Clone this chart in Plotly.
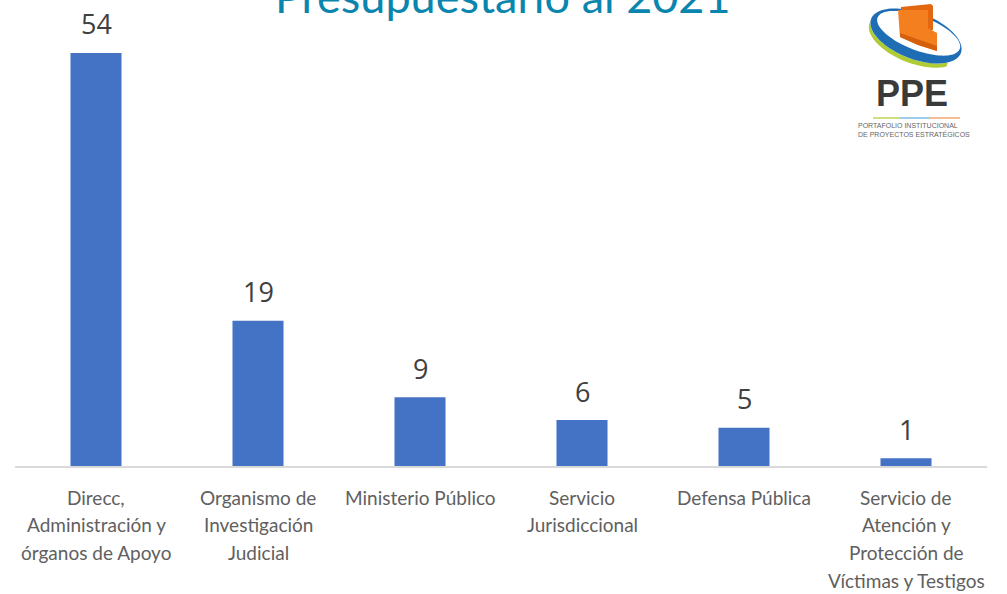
import numpy as np
import plotly.graph_objects as go

categories = [
    "Direcc,<br>Administración y<br>órganos de Apoyo",
    "Organismo de<br>Investigación<br>Judicial",
    "Ministerio Público",
    "Servicio<br>Jurisdiccional",
    "Defensa Pública",
    "Servicio de<br>Atención y<br>Protección de<br>Víctimas y Testigos",
]
values = [54, 19, 9, 6, 5, 1]
title_text = "Presupuestario al 2021"

W, H = 1007, 594
L, R, T, B = 15, 987, 20, 466


def px(x):
    return (x - L) / (R - L)


def py(y):
    return (B - y) / (B - T)


fig = go.Figure()
fig.add_trace(go.Bar(
    x=categories, y=values,
    marker=dict(color="#4472C4", line=dict(width=0)),
    width=0.315,
    hoverinfo="skip",
))

annotations = []
for c, v in zip(categories, values):
    annotations.append(dict(
        x=c, y=v, xref="x", yref="y", text=str(v), showarrow=False,
        yanchor="middle", yshift=29,
        font=dict(family="Open Sans, Liberation Sans, sans-serif", size=27, color="#404040"),
    ))

# category labels, one annotation per line for the wider line spacing
LINE0, LSTEP = 497, 27.7
for c in categories:
    for i, line in enumerate(c.split("<br>")):
        annotations.append(dict(
            x=c, y=py(LINE0 + i * LSTEP), xref="x", yref="paper", text=line,
            showarrow=False, xanchor="center", yanchor="middle",
            font=dict(family="Lato, sans-serif", size=19, color="#606060"),
        ))

annotations.append(dict(
    x=px(503), y=py(-4.5), xref="paper", yref="paper", text=title_text,
    showarrow=False, xanchor="center", yanchor="middle",
    font=dict(family="Lato, sans-serif", size=45, color="#0A86AE"),
))

# Logo text
annotations.append(dict(
    x=px(912), y=py(93), xref="paper", yref="paper", text="<b>PPE</b>",
    showarrow=False, xanchor="center", yanchor="middle",
    font=dict(family="Liberation Sans, sans-serif", size=36, color="#3A3A3A"),
))
annotations.append(dict(
    x=px(914), y=py(130), xref="paper", yref="paper",
    text="PORTAFOLIO INSTITUCIONAL<br>DE PROYECTOS ESTRATÉGICOS",
    showarrow=False, xanchor="center", yanchor="middle", align="left",
    font=dict(family="Liberation Sans Narrow, Liberation Sans, sans-serif", size=7, color="#666666"),
))

shapes = []

ROT = 21.0


def ellipse_pts(cx, cy, a, b, t, dx=0.0, dy=0.0):
    c, s = np.cos(np.radians(ROT)), np.sin(np.radians(ROT))
    xs = dx + a * np.cos(t)
    ys = dy + b * np.sin(t)
    return cx + xs * c - ys * s, cy + xs * s + ys * c


def to_path(xs, ys):
    pts = [f"{px(x):.5f},{py(y):.5f}" for x, y in zip(xs, ys)]
    return "M" + " L".join(pts) + " Z"


CX, CY = 916, 36
# green crescent (lower-left)
t = np.linspace(np.radians(35), np.radians(178), 50)
gx, gy = ellipse_pts(CX, CY, 48, 23, t, dy=4.5)
bx, by = ellipse_pts(CX, CY, 48, 23, t[::-1])
shapes.append(dict(type="path", xref="paper", yref="paper",
                   path=to_path(np.concatenate([gx, bx]), np.concatenate([gy, by])),
                   fillcolor="#AFCB35", line=dict(width=0), layer="above"))

# blue ring
t = np.linspace(0, 2 * np.pi, 90)
ox, oy = ellipse_pts(CX, CY, 48, 23, t)
ix, iy = ellipse_pts(CX, CY, 44, 17, t[::-1], dx=1.5, dy=-3.5)
p = to_path(ox, oy) + " " + to_path(ix, iy)
shapes.append(dict(type="path", xref="paper", yref="paper", path=p,
                   fillcolor="#1F6DB5", line=dict(width=0), layer="above"))

# orange folder back flap
shapes.append(dict(type="path", xref="paper", yref="paper",
                   path=to_path([901, 931, 933, 933, 901], [7, 4, 6, 30, 30]),
                   fillcolor="#E2670E", line=dict(width=0), layer="above"))
# orange folder front
shapes.append(dict(type="path", xref="paper", yref="paper",
                   path=to_path([898, 928, 928, 937, 937, 918, 900],
                                [10, 10, 28, 33, 51, 45, 37]),
                   fillcolor="#F47F1F", line=dict(width=0), layer="above"))
shapes.append(dict(type="path", xref="paper", yref="paper",
                   path=to_path([900, 937, 937, 918, 900],
                                [33, 46, 51, 45, 37]),
                   fillcolor="#D4600E", line=dict(width=0), layer="above"))

# colored bars under PPE
for x0, x1, col in [(873, 900, "#CFDF7E"), (900, 930, "#9CCDEB"), (930, 960, "#F5BE92")]:
    shapes.append(dict(type="line", xref="paper", yref="paper",
                       x0=px(x0), x1=px(x1), y0=py(118), y1=py(118),
                       line=dict(color=col, width=2), layer="above"))

fig.update_layout(
    width=W, height=H,
    margin=dict(l=L, r=W - R, t=T, b=H - B, pad=0),
    paper_bgcolor="white", plot_bgcolor="white",
    showlegend=False,
    annotations=annotations,
    shapes=shapes,
    xaxis=dict(
        showgrid=False, showline=True, linecolor="#D9D9D9", linewidth=1.5,
        ticks="", showticklabels=False,
        fixedrange=True,
    ),
    yaxis=dict(
        range=[0, 58.3], showgrid=False, showline=False, zeroline=False,
        showticklabels=False, ticks="", fixedrange=True,
    ),
    bargap=0.685,
)

fig.write_html("out.html", post_script="document.body.style.margin='0';",
               config={"displayModeBar": False})
